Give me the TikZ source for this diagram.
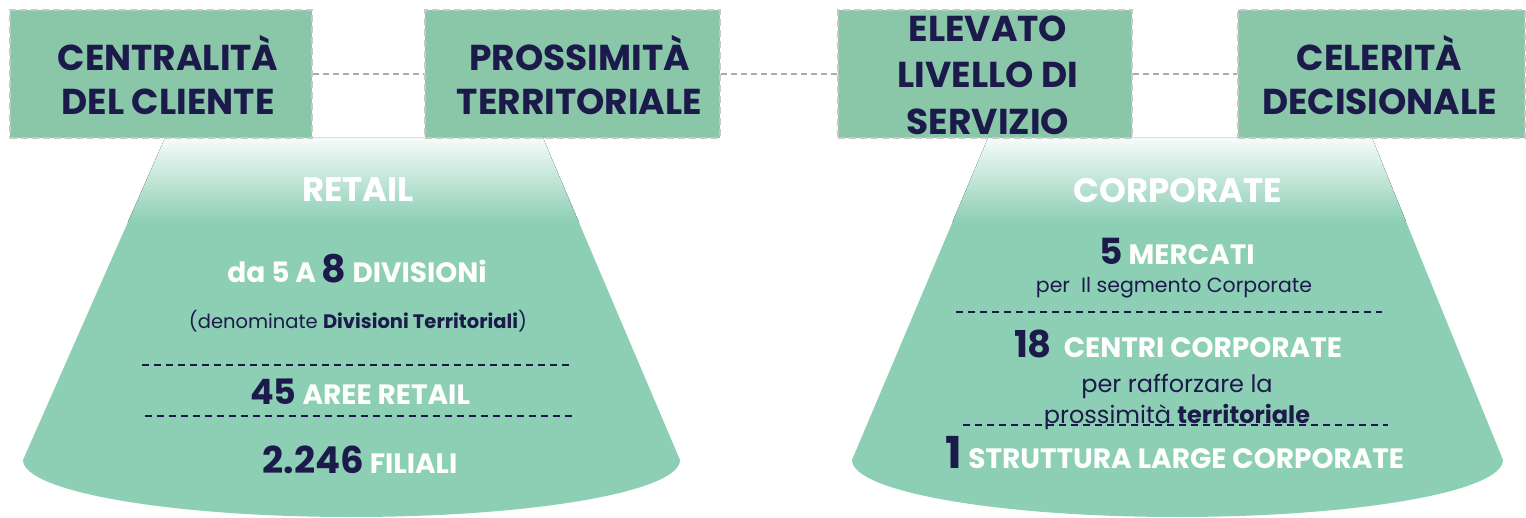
\documentclass[tikz,border=0pt]{standalone}
\usepackage{fontspec}
\setmainfont{Poppins}
\definecolor{boxfill}{HTML}{8AC6A8}
\definecolor{conefill}{HTML}{8DCFB5}
\definecolor{navy}{HTML}{1C1A4B}
\definecolor{boxedge}{HTML}{C8C8C8}
\definecolor{conn}{HTML}{ABABAB}
\newcommand{\nv}[2]{{\fontsize{#1}{#1}\selectfont\color{navy}#2}}
\tikzset{
  hdrbox/.style={draw=boxedge, line width=1.6pt, dash pattern=on 7pt off 4pt, fill=boxfill, minimum height=128pt, inner sep=0pt},
  hdrtext/.style={font=\fontsize{36}{44}\selectfont\bfseries, text=navy, align=center, inner sep=0pt},
  link/.style={draw=conn, line width=1.4pt, dash pattern=on 6pt off 4pt},
  sepline/.style={draw=navy, line width=1.3pt, dash pattern=on 7pt off 5pt},
  cone/.style={fill=conefill},
  ttl/.style={font=\fontsize{34}{34}\selectfont\bfseries, text=white, anchor=base, inner sep=0pt},
  item/.style={font=\fontsize{28}{28}\selectfont\bfseries, text=white, anchor=base, inner sep=0pt},
  note/.style={font=\fontsize{19.5}{20}\selectfont, text=navy, anchor=base, inner sep=0pt},
  bignote/.style={font=\fontsize{24}{24}\selectfont, text=navy, anchor=base, inner sep=0pt},
}
\begin{document}
\begin{tikzpicture}[x=1pt,y=-1pt]
\useasboundingbox (0,0) rectangle (1526,518);
% cones
\fill[cone] (165,138) -- (23,460) arc[start angle=180, end angle=0, x radius=328.5, y radius=57] -- (543,138) -- cycle;
\begin{scope}
\clip (165,138) -- (23,460) arc[start angle=180, end angle=0, x radius=328.5, y radius=57] -- (543,138) -- cycle;
\fill[top color=conefill!6!white, bottom color=conefill] (0,136) rectangle (700,222);
\end{scope}
\fill[cone] (988,138) -- (852,460) arc[start angle=180, end angle=0, x radius=325.5, y radius=57] -- (1372,138) -- cycle;
\begin{scope}
\clip (988,138) -- (852,460) arc[start angle=180, end angle=0, x radius=325.5, y radius=57] -- (1372,138) -- cycle;
\fill[top color=conefill!6!white, bottom color=conefill] (800,136) rectangle (1526,222);
\end{scope}
% header boxes
\node[hdrbox, minimum width=302pt] (b1) at (161,74) {};
\node[hdrbox, minimum width=295pt] (b2) at (572.5,74) {};
\node[hdrbox, minimum width=294pt] (b3) at (985,74) {};
\node[hdrbox, minimum width=287pt] (b4) at (1381.5,74) {};
\draw[link] (b1.east) -- (b2.west);
\draw[link] (b2.east) -- (b3.west);
\draw[link] (b3.east) -- (b4.west);
\node[hdrtext] (t1) at ([xshift=7pt, yshift=-1pt]b1.center) {CENTRALITÀ\\DEL CLIENTE};
\node[hdrtext] (t2) at ([xshift=7pt, yshift=-1pt]b2.center) {PROSSIMITÀ\\TERRITORIALE};
\node[hdrtext, font=\fontsize{36}{46.5}\selectfont\bfseries] (t3) at ([xshift=3pt, yshift=-1pt]b3.center) {ELEVATO\\LIVELLO DI\\SERVIZIO};
\node[hdrtext] (t4) at ([xshift=-2pt, yshift=-1pt]b4.center) {CELERITÀ\\DECISIONALE};
% retail
\node[ttl] (r0) at (358,202) {RETAIL};
\node[item] (r1) at (357,283) {da 5 A \nv{38}{8} DIVISIONi};
\node[note] (r2) at (358,329) {(denominate \textbf{Divisioni Territoriali})};
\draw[sepline] (142,365) -- (570,365);
\node[item] (r3) at (360,405) {\nv{35}{45} AREE RETAIL};
\draw[sepline] (145,416) -- (574,416);
\node[item] (r4) at (360,473) {\nv{37}{2.246} FILIALI};
% corporate
\node[ttl] (c0) at (1178,203) {CORPORATE};
\node[item] (c1) at (1177,265) {\nv{36}{5} MERCATI};
\node[note, font=\fontsize{20.5}{21}\selectfont] (c2) at (1174,293) {per\ \ Il segmento Corporate};
\draw[sepline] (956,312) -- (1382,312);
\node[item] (c3) at (1178,358) {\nv{37}{18}\ \ CENTRI CORPORATE};
\node[bignote] (c4) at (1177,392) {per rafforzare la};
\node[bignote] (c5) at (1177,423) {prossimità \textbf{territoriale}};
\draw[sepline] (963,425) -- (1388,425);
\node[item] (c6) at (1175,468) {\nv{44}{1} STRUTTURA LARGE CORPORATE};
\end{tikzpicture}
\end{document}
